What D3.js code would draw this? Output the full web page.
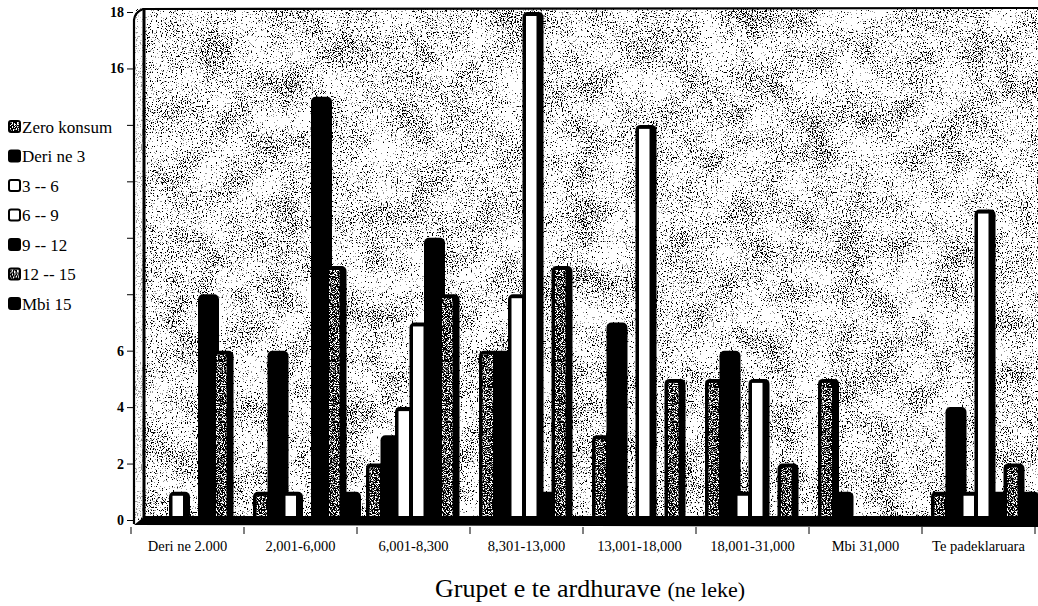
<!DOCTYPE html>
<html>
<head>
<meta charset="utf-8">
<script src="https://cdn.jsdelivr.net/npm/d3@7"></script>
<style>
  body { margin: 0; background: #fff; }
  svg { display: block; font-family: "Liberation Serif", serif; }
</style>
</head>
<body>
<div id="chart"></div>
<script>
// income groups on the x axis, consumption classes as the series
var groups = ["Deri ne 2.000", "2,001-6,000", "6,001-8,300", "8,301-13,000",
              "13,001-18,000", "18,001-31,000", "Mbi 31,000", "Te padeklaruara"];
var seriesNames = ["Zero konsum", "Deri ne 3", "3 -- 6", "6 -- 9", "9 -- 12", "12 -- 15", "Mbi 15"];

var zeroKonsum = [0, 1, 2, 6, 3, 5, 5, 1];
var deriNe3    = [0, 6, 3, 6, 7, 6, 1, 4];
var from3to6   = [1, 1, 4, 8, 0, 1, 0, 1];
var from6to9   = [0, 0, 7, 18, 14, 5, 0, 11];
var from9to12  = [8, 15, 10, 1, 0, 0, 0, 1];
var from12to15 = [6, 9, 8, 9, 5, 2, 0, 2];
var mbi15      = [0, 1, 0, 0, 0, 0, 0, 1];

var yTicks = [0, 2, 4, 6, 8, 10, 12, 14, 16, 18];
var yTickLabels = [0, 2, 4, 6, 16, 18]; // the others are lost in the scan

var seriesValues = [zeroKonsum, deriNe3, from3to6, from6to9, from9to12, from12to15, mbi15];
var seriesFill = ["grain", "black", "white", "white", "black", "grain", "black"];

var w = 1038;
var h = 606;

var svg = d3.select("#chart")
    .append("svg")
    .attr("width", w)
    .attr("height", h);

var defs = svg.append("defs");

// speckled background, like the photocopy
var bgNoise = defs.append("filter")
    .attr("id", "bgNoise")
    .attr("x", 0).attr("y", 0).attr("width", "100%").attr("height", "100%")
    .attr("color-interpolation-filters", "sRGB");
bgNoise.append("feTurbulence")
    .attr("type", "fractalNoise").attr("baseFrequency", 0.8).attr("numOctaves", 2).attr("seed", 3)
    .attr("result", "fine0");
bgNoise.append("feColorMatrix").attr("in", "fine0").attr("type", "matrix")
    .attr("values", "1 0 0 0 0  0 1 0 0 0  0 0 1 0 0  0 0 0 0 1").attr("result", "fine");
bgNoise.append("feTurbulence")
    .attr("type", "fractalNoise").attr("baseFrequency", 0.03).attr("numOctaves", 2).attr("seed", 11)
    .attr("result", "coarse0");
bgNoise.append("feColorMatrix").attr("in", "coarse0").attr("type", "matrix")
    .attr("values", "1 0 0 0 0  0 1 0 0 0  0 0 1 0 0  0 0 0 0 1").attr("result", "coarse");
bgNoise.append("feComposite").attr("in", "fine").attr("in2", "coarse")
    .attr("operator", "arithmetic").attr("k1", 0).attr("k2", 0.8).attr("k3", 0.25).attr("k4", -0.025)
    .attr("result", "mix");
bgNoise.append("feColorMatrix").attr("in", "mix").attr("type", "matrix")
    .attr("values", "0 0 0 0 0  0 0 0 0 0  0 0 0 0 0  -6 0 0 0 3.0");
var bgA = bgNoise.append("feComponentTransfer");
bgA.append("feFuncA").attr("type", "discrete").attr("tableValues", "0 0 0.4 1");

// denser grain for the grey bars
var barNoise = defs.append("filter")
    .attr("id", "barNoise")
    .attr("x", 0).attr("y", 0).attr("width", "100%").attr("height", "100%")
    .attr("color-interpolation-filters", "sRGB");
barNoise.append("feTurbulence")
    .attr("type", "fractalNoise").attr("baseFrequency", 0.9).attr("numOctaves", 2).attr("seed", 5);
barNoise.append("feColorMatrix").attr("type", "matrix")
    .attr("values", "0 0 0 0 0  0 0 0 0 0  0 0 0 0 0  6 0 0 0 -2.3");
var barA = barNoise.append("feComponentTransfer");
barA.append("feFuncA").attr("type", "discrete").attr("tableValues", "0 0.5 1");

var grain = defs.append("pattern")
    .attr("id", "grain")
    .attr("patternUnits", "userSpaceOnUse")
    .attr("width", 300).attr("height", 600);
grain.append("rect").attr("width", 300).attr("height", 600).attr("fill", "#fff");
grain.append("rect").attr("width", 300).attr("height", 600).attr("filter", "url(#barNoise)");

function fillOf(kind) {
    return kind === "grain" ? "url(#grain)" : kind;
}

var x0 = d3.scaleBand()
    .domain(groups)
    .range([131, 1035]);

var x1 = d3.scaleBand()
    .domain(seriesNames)
    .range([9, 9 + 7 * 14.5]);

var barW = x1.step() + 6.5;

var yScale = d3.scaleLinear()
    .domain([0, 18])
    .range([520, 12]);

// plot background
var plot = svg.append("g").attr("id", "plot");
plot.append("rect")
    .attr("x", 134).attr("y", 8).attr("width", w - 134).attr("height", 512)
    .attr("fill", "#fff");
plot.append("rect")
    .attr("x", 134).attr("y", 8).attr("width", w - 134).attr("height", 512)
    .attr("filter", "url(#bgNoise)");

// left wall
plot.append("rect")
    .attr("x", 135).attr("y", 14).attr("width", 8).attr("height", 504)
    .attr("fill", "#fff").attr("opacity", 0.6);
plot.append("path")
    .attr("d", "M134,524 L134,20 Q135,12 143,9 L1038,8")
    .attr("fill", "none").attr("stroke", "#000").attr("stroke-width", 2.2);
plot.append("line")
    .attr("x1", 144).attr("x2", 144).attr("y1", 9).attr("y2", 518)
    .attr("stroke", "#000").attr("stroke-width", 3);

// bars
var table = groups.map((g, gi) => {
    let row = {group: g};
    seriesNames.forEach((s, si) => { row[s] = seriesValues[si][gi]; });
    return row;
});

var groupSel = plot.selectAll(".grp")
    .data(table)
    .enter()
    .append("g")
    .attr("class", "grp")
    .attr("transform", d => `translate(${x0(d.group)}, 0)`);

var bars = groupSel.selectAll(".bar")
    .data(d => seriesNames.map((s, si) => ({key: s, value: d[s], kind: seriesFill[si]})))
    .enter()
    .append("g")
    .attr("class", "bar");

bars.append("rect")
    .attr("x", d => x1(d.key))
    .attr("y", d => yScale(d.value))
    .attr("width", barW)
    .attr("height", d => Math.max(3, yScale(0) - yScale(d.value)))
    .attr("rx", 5)
    .attr("fill", "#000");

bars.filter(d => d.kind !== "black" && d.value > 0)
    .append("rect")
    .attr("x", d => x1(d.key) + 3.5)
    .attr("y", d => yScale(d.value) + 4)
    .attr("width", barW - 10.5)
    .attr("height", d => yScale(0) - yScale(d.value) - 4)
    .attr("fill", d => fillOf(d.kind));

bars.append("title").text(d => d.key + ": " + d.value);

// floor
plot.append("path")
    .attr("d", "M134,525 L145,516 L1038,516 L1038,527 Z")
    .attr("fill", "#000");

// axes
var yAxis = d3.axisLeft(yScale)
    .tickValues(yTicks)
    .tickSize(6)
    .tickFormat(d => yTickLabels.indexOf(d) >= 0 ? d : "");

var yG = svg.append("g")
    .attr("class", "y-axis")
    .attr("transform", "translate(133, 0)")
    .call(yAxis);
yG.select(".domain").remove();
yG.selectAll("line").attr("stroke", "#000");
yG.selectAll("text")
    .attr("font-family", "Liberation Serif, serif")
    .attr("font-size", 14)
    .attr("font-weight", "bold")
    .attr("fill", "#000");

var bounds = groups.map(g => x0(g)).concat([x0.range()[1]]);
svg.append("g")
    .selectAll("line")
    .data(bounds)
    .enter()
    .append("line")
    .attr("x1", d => d).attr("x2", d => d)
    .attr("y1", 527).attr("y2", 534)
    .attr("stroke", "#000");

svg.append("g")
    .attr("class", "x-labels")
    .selectAll("text")
    .data(groups)
    .enter()
    .append("text")
    .attr("x", d => x0(d) + x0.bandwidth() / 2)
    .attr("y", 551)
    .attr("text-anchor", "middle")
    .attr("font-size", 14.5)
    .text(d => d);

var title = svg.append("text")
    .attr("x", 590)
    .attr("y", 597)
    .attr("text-anchor", "middle");
title.append("tspan").attr("font-size", 26).text("Grupet e te ardhurave ");
title.append("tspan").attr("font-size", 22).text("(ne leke)");

// legend
var legend = svg.append("g").attr("id", "legend");
var items = legend.selectAll(".item")
    .data(seriesNames)
    .enter()
    .append("g")
    .attr("class", "item")
    .attr("transform", (d, i) => `translate(0, ${127 + i * 29.5})`);

items.append("rect")
    .attr("x", 9).attr("y", -6)
    .attr("width", 11).attr("height", 11)
    .attr("rx", 2)
    .attr("fill", (d, i) => fillOf(seriesFill[i]))
    .attr("stroke", "#000")
    .attr("stroke-width", 2);

items.append("text")
    .attr("x", 22)
    .attr("y", 5.5)
    .attr("font-size", 17)
    .text(d => d);
</script>
</body>
</html>
